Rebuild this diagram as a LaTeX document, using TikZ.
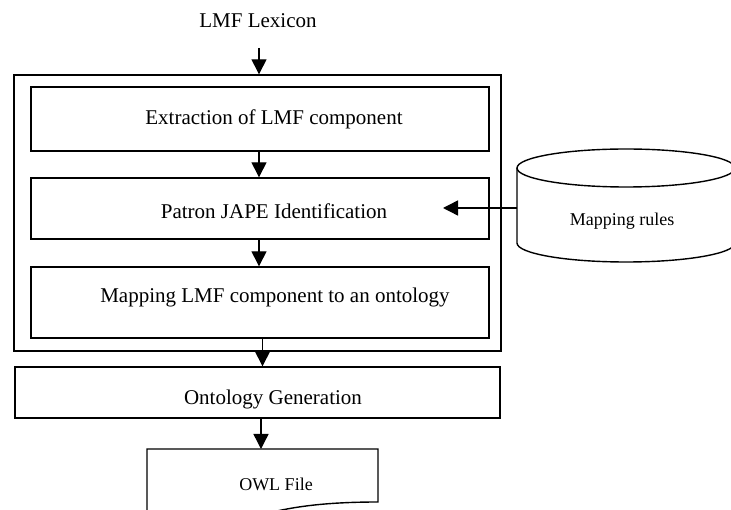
\documentclass[tikz,border=0pt]{standalone}
\usepackage{fontspec}
\setmainfont{Liberation Serif}
\usetikzlibrary{arrows.meta}

\tikzset{
  stepbox/.style={draw, line width=1.4pt, minimum width=458pt, inner sep=0pt},
  flow/.style={line width=1.4pt, -{Triangle[length=15pt,width=15pt]}},
  bigtxt/.style={font=\fontsize{21}{25}\selectfont},
  smalltxt/.style={font=\fontsize{18}{22}\selectfont},
}

\begin{document}
\begin{tikzpicture}[x=1pt,y=-1pt]
\useasboundingbox (0,0) rectangle (731,510);

% input lexicon
\node[bigtxt] (lex) at (258,21) {LMF Lexicon};
\coordinate (lexout) at (259,48);

% outer frame and inner steps
\node[draw, line width=1.4pt, minimum width=487pt, minimum height=276pt] (frame) at (257.5,213) {};
\node[stepbox, minimum height=64pt,
      label={[bigtxt, xshift=14pt]center:Extraction of LMF component}] (extract) at (260,119) {};
\node[stepbox, minimum height=61pt,
      label={[bigtxt, xshift=14pt, yshift=-2.5pt]center:Patron JAPE Identification}] (patron) at (260,208.5) {};
\node[stepbox, minimum height=71pt,
      label={[bigtxt, xshift=15pt, yshift=5pt]center:Mapping LMF component to an ontology}] (map) at (260,302.5) {};

% generation step
\node[draw, line width=1.4pt, minimum width=485pt, minimum height=51pt, inner sep=0pt,
      label={[bigtxt, xshift=15.5pt, yshift=-6.5pt]center:Ontology Generation}] (onto) at (257.5,392.5) {};

% mapping rules store
\draw[line width=1.4pt] (626,168) ellipse [x radius=109, y radius=19];
\draw[line width=1.4pt] (517,168) -- (517,243) arc[start angle=180, end angle=0, x radius=109, y radius=19] -- (735,168);
\node[smalltxt] (rules) at (622,221) {Mapping rules};
\coordinate (rulesside) at (517,208);
\coordinate (patronin) at (443,208);

% output document
\draw[line width=1.4pt] (147,525) -- (147,449) -- (378,449) -- (378,502)
  .. controls (330,502) and (300,506) .. (277,511)
  .. controls (250,518) and (200,525) .. (147,520);
\node[smalltxt] (owl) at (276,484) {OWL File};
\coordinate (owltop) at (261,449);

% connectors
\draw[flow] (lexout) -- (lexout |- frame.north);
\draw[flow] ([xshift=-1pt]extract.south) -- ([xshift=-1pt]patron.north);
\draw[flow] ([xshift=-1pt]patron.south) -- ([xshift=-1pt]map.north);
\draw[flow] ([xshift=2.5pt]map.south) -- ([xshift=2.5pt]map.south |- onto.north);
\draw[flow] (onto.south -| owltop) -- (owltop);
\draw[flow] (rulesside) -- (patronin);
\end{tikzpicture}
\end{document}
